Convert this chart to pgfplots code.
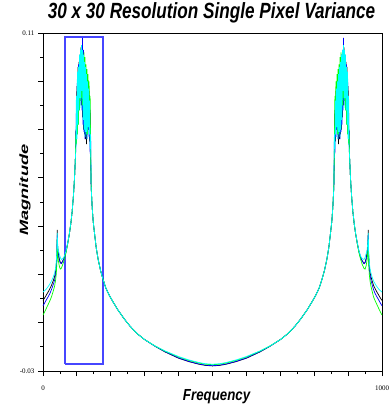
\documentclass[border=0pt]{standalone}
\usepackage{pgfplots}
\pgfplotsset{compat=1.18}
\usepackage{pgfplotstable}
\usepackage{fontspec}
\newfontfamily\arialf{Liberation Sans}
\newfontfamily\timesf{Liberation Serif}
\definecolor{rectblue}{RGB}{70,70,255}
\definecolor{cyn}{RGB}{0,255,255}
\definecolor{grn}{RGB}{0,255,0}
\definecolor{blu}{RGB}{0,0,255}

\pgfplotstableread{
x k b g c
0 -0.0008 -0.0030 -0.0068 0.0027
5 0.0003 -0.0018 -0.0055 0.0033
10 0.0015 -0.0005 -0.0040 0.0040
15 0.0027 0.0007 -0.0025 0.0049
20 0.0040 0.0020 -0.0010 0.0060
25 0.0055 0.0037 0.0007 0.0073
30 0.0073 0.0057 0.0030 0.0088
34 0.0090 0.0075 0.0050 0.0105
37 0.0110 0.0097 0.0075 0.0125
39 0.0135 0.0122 0.0100 0.0150
41 0.0185 0.0170 0.0150 0.0195
42 0.0284 0.0262 0.0245 0.0272
43 0.0220 0.0210 0.0190 0.0230
45 0.0190 0.0180 0.0160 0.0200
48 0.0165 0.0160 0.0135 0.0185
51 0.0150 0.0148 0.0122 0.0170
54 0.0145 0.0145 0.0125 0.0162
58 0.0155 0.0155 0.0140 0.0165
63 0.0170 0.0170 0.0162 0.0175
68 0.0195 0.0195 0.0190 0.0198
73 0.0230 0.0230 0.0228 0.0232
78 0.0270 0.0270 0.0270 0.0272
82 0.0310 0.0310 0.0310 0.0312
86 0.0360 0.0360 0.0360 0.0362
90 0.0430 0.0430 0.0430 0.0432
93 0.0500 0.0500 0.0500 0.0502
95.5 0.0580 0.0580 0.0580 0.0582
97 0.070 0.063 0.068 0.062
98.5 0.066 0.078 0.064 0.084
100 0.088 0.068 0.080 0.066
101.5 0.070 0.092 0.068 0.094
103 0.096 0.074 0.088 0.072
104.5 0.075 0.097 0.072 0.096
106 0.098 0.079 0.094 0.078
107.5 0.080 0.100 0.078 0.101
109 0.101 0.080 0.098 0.083
110.5 0.085 0.103 0.082 0.103
112 0.104 0.082 0.100 0.079
113.5 0.080 0.104 0.083 0.105
115 0.102 0.078 0.101 0.086
116.5 0.075 0.108 0.080 0.103
118 0.100 0.072 0.100 0.074
119.5 0.070 0.103 0.075 0.101
121 0.099 0.069 0.102 0.070
122.5 0.068 0.097 0.072 0.098
124 0.096 0.066 0.100 0.067
125.5 0.066 0.095 0.070 0.096
127 0.094 0.068 0.097 0.069
128.5 0.064 0.091 0.068 0.093
130 0.092 0.066 0.095 0.066
131.5 0.068 0.089 0.068 0.090
133 0.089 0.070 0.093 0.071
134.5 0.070 0.085 0.072 0.087
136 0.086 0.067 0.090 0.068
137.5 0.065 0.080 0.068 0.082
139 0.078 0.060 0.084 0.062
140.5 0.058 0.066 0.062 0.068
142 0.0465 0.0460 0.0470 0.0462
145 0.0380 0.0380 0.0380 0.0380
148 0.0320 0.0320 0.0320 0.0320
152 0.0270 0.0270 0.0270 0.0270
157 0.0210 0.0210 0.0210 0.0210
163 0.0160 0.0160 0.0160 0.0160
170 0.0115 0.0115 0.0115 0.0115
177 0.0080 0.0080 0.0080 0.0080
185 0.0045 0.0045 0.0045 0.0045
195 0.0015 0.0015 0.0015 0.0015
205 -0.0010 -0.0010 -0.0010 -0.0010
220 -0.0045 -0.0045 -0.0045 -0.0045
240 -0.0085 -0.0085 -0.0085 -0.0085
257 -0.0115 -0.0115 -0.0115 -0.0115
280 -0.0148 -0.0148 -0.0148 -0.0148
300 -0.0170 -0.0170 -0.0170 -0.0170
330 -0.0197 -0.0197 -0.0196 -0.0196
360 -0.0221 -0.0220 -0.0218 -0.0217
400 -0.0247 -0.0246 -0.0242 -0.0240
430 -0.0261 -0.0260 -0.0256 -0.0254
460 -0.0272 -0.0271 -0.0267 -0.0265
480 -0.0277 -0.0276 -0.0272 -0.0270
500 -0.0279 -0.0278 -0.0274 -0.0272
520 -0.0277 -0.0276 -0.0272 -0.0270
540 -0.0272 -0.0271 -0.0267 -0.0265
570 -0.0261 -0.0260 -0.0256 -0.0254
600 -0.0247 -0.0246 -0.0242 -0.0240
640 -0.0221 -0.0220 -0.0218 -0.0217
670 -0.0197 -0.0197 -0.0196 -0.0196
700 -0.0170 -0.0170 -0.0170 -0.0170
720 -0.0148 -0.0148 -0.0148 -0.0148
743 -0.0115 -0.0115 -0.0115 -0.0115
760 -0.0085 -0.0085 -0.0085 -0.0085
780 -0.0045 -0.0045 -0.0045 -0.0045
795 -0.0010 -0.0010 -0.0010 -0.0010
805 0.0015 0.0015 0.0015 0.0015
815 0.0045 0.0045 0.0045 0.0045
823 0.0080 0.0080 0.0080 0.0080
830 0.0115 0.0115 0.0115 0.0115
837 0.0160 0.0160 0.0160 0.0160
843 0.0210 0.0210 0.0210 0.0210
848 0.0270 0.0270 0.0270 0.0270
852 0.0320 0.0320 0.0320 0.0320
855 0.0380 0.0380 0.0380 0.0380
858 0.0465 0.0460 0.0470 0.0462
859.5 0.058 0.066 0.062 0.068
861 0.078 0.060 0.084 0.062
862.5 0.065 0.080 0.068 0.082
864 0.086 0.067 0.090 0.068
865.5 0.070 0.085 0.072 0.087
867 0.089 0.070 0.093 0.071
868.5 0.068 0.089 0.068 0.090
870 0.092 0.066 0.095 0.066
871.5 0.064 0.091 0.068 0.093
873 0.094 0.068 0.097 0.069
874.5 0.066 0.095 0.070 0.096
876 0.096 0.066 0.100 0.067
877.5 0.068 0.097 0.072 0.098
879 0.099 0.069 0.102 0.070
880.5 0.070 0.101 0.075 0.101
882 0.100 0.072 0.100 0.074
883.5 0.075 0.103 0.080 0.103
885 0.102 0.078 0.101 0.086
886.5 0.080 0.108 0.083 0.105
888 0.104 0.082 0.100 0.079
889.5 0.085 0.103 0.082 0.103
891 0.101 0.080 0.098 0.083
892.5 0.080 0.100 0.078 0.101
894 0.098 0.079 0.094 0.078
895.5 0.075 0.097 0.072 0.096
897 0.096 0.074 0.088 0.072
898.5 0.070 0.092 0.068 0.094
900 0.088 0.068 0.080 0.066
901.5 0.066 0.078 0.064 0.084
903 0.070 0.063 0.068 0.062
904.5 0.0580 0.0580 0.0580 0.0582
907 0.0500 0.0500 0.0500 0.0502
910 0.0430 0.0430 0.0430 0.0432
914 0.0360 0.0360 0.0360 0.0362
918 0.0310 0.0310 0.0310 0.0312
922 0.0270 0.0270 0.0270 0.0272
927 0.0230 0.0230 0.0228 0.0232
932 0.0195 0.0195 0.0190 0.0198
937 0.0170 0.0170 0.0162 0.0175
942 0.0155 0.0155 0.0140 0.0165
947 0.0145 0.0145 0.0125 0.0162
950 0.0150 0.0148 0.0122 0.0170
953 0.0165 0.0160 0.0135 0.0185
956 0.0190 0.0180 0.0160 0.0200
958 0.0220 0.0210 0.0190 0.0230
959.5 0.0284 0.0262 0.0245 0.0272
960.5 0.0185 0.0170 0.0150 0.0195
962.5 0.0135 0.0122 0.0100 0.0150
964.5 0.0110 0.0097 0.0075 0.0125
967.5 0.0090 0.0075 0.0050 0.0105
971 0.0073 0.0057 0.0030 0.0088
975 0.0055 0.0037 0.0007 0.0073
980 0.0040 0.0020 -0.0010 0.0060
985 0.0027 0.0007 -0.0025 0.0049
990 0.0015 -0.0005 -0.0040 0.0040
995 0.0003 -0.0018 -0.0055 0.0033
1000 -0.0008 -0.0030 -0.0068 0.0027
}\datatable

\begin{document}
\begin{tikzpicture}
\begin{axis}[
  scale only axis,
  width=339pt, height=338pt,
  xmin=0, xmax=1000, ymin=-0.03, ymax=0.11,
  axis line style={black, line width=0.9pt},
  tick align=outside,
  xtick pos=bottom, ytick pos=left,
  major tick length=5pt, minor tick length=3pt,
  tick style={black, line width=0.9pt},
  xtick={0,100,200,300,400,500,600,700,800,900,1000},
  xticklabels={0,{},{},{},{},{},{},{},{},{},1000},
  minor xtick={50,150,250,350,450,550,650,750,850,950},
  ytick={-0.03,-0.01,0.01,0.03,0.05,0.07,0.09,0.11},
  yticklabels={-0.03,{},{},{},{},{},{},0.11},
  minor ytick={-0.02,0,0.02,0.04,0.06,0.08,0.10},
  ticklabel style={font=\timesf\fontsize{7}{8}\selectfont},
  xticklabel style={yshift=-6pt},
  title={\scalebox{0.78}[1]{\fontsize{22}{24}\selectfont\arialf\bfseries\itshape 30 x 30 Resolution Single Pixel Variance}},
  title style={at={(axis description cs:0.497,1)}, anchor=base, yshift=8pt, inner sep=0pt},
  xlabel={\scalebox{0.83}[1]{\fontsize{16}{18}\selectfont\arialf\bfseries\itshape Frequency}},
  xlabel style={at={(axis description cs:0.512,0)}, anchor=center, yshift=-26pt},
  ylabel={\scalebox{1.52}[1]{\fontsize{12}{14}\selectfont\arialf\bfseries\itshape Magnitude}},
  ylabel style={at={(axis description cs:0,0.535)}, anchor=center, yshift=18pt},
]
\addplot[draw=rectblue, line width=1.2pt, line join=miter] coordinates {(65,-0.0271) (177,-0.0271) (177,0.1083) (65,0.1083) (65,-0.0271)};
\addplot[black, line width=0.7pt] table[x=x, y=k] {\datatable};
\addplot[blu, line width=0.7pt] table[x=x, y=b] {\datatable};
\addplot[grn, line width=0.7pt] table[x=x, y=g] {\datatable};
\addplot[cyn, line width=0.7pt] table[x=x, y=c] {\datatable};
\end{axis}
\pgfresetboundingbox
\path[use as bounding box] (-43pt,-35pt) rectangle (346pt,371pt);
\end{tikzpicture}
\end{document}
